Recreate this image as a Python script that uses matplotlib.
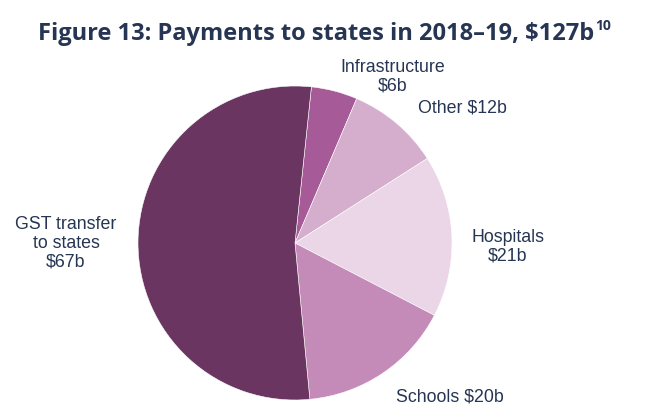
import matplotlib.pyplot as plt

labels = ["Infrastructure\n$6b", "Other $12b", "Hospitals\n$21b", "Schools $20b", "GST transfer\nto states\n$67b"]
values = [6, 12, 21, 20, 67]
colors = ["#a65a98", "#d6aecd", "#ead6e6", "#c48ab8", "#6a3560"]

# label centres in pixels (x from left, y from top)
label_pos = [(393, 77), (462, 108), (508, 247), (450, 397), (66, 243)]

W, H = 662, 411
fig = plt.figure(figsize=(W / 100, H / 100), dpi=100)

cx, cy, r = 295, 243, 157
ax = fig.add_axes([(cx - r) / W, (H - cy - r) / H, 2 * r / W, 2 * r / H])
ax.pie(values, colors=colors, startangle=84, counterclock=False,
       wedgeprops=dict(edgecolor="white", linewidth=0.4))
ax.set_xlim(-1, 1)
ax.set_ylim(-1, 1)
ax.set_aspect("auto")
ax.axis("off")

text_color = "#263553"
for lab, (px, py) in zip(labels, label_pos):
    fig.text(px / W, 1 - py / H, lab, ha="center", va="center", fontsize=12.8,
             family="Liberation Sans", color=text_color, linespacing=1.12)

title = fig.text(316 / W, 1 - 34 / H, "Figure 13: Payments to states in 2018–19, $127b",
                 ha="center", va="center", fontsize=17, fontweight="bold",
                 family="Open Sans", color=text_color)
fig.canvas.draw()
bb = title.get_window_extent()
fig.text((bb.x1 + 1) / W, (bb.y1 - 4) / H, "10", ha="left", va="center", fontsize=10,
         fontweight="bold", family="Open Sans", color=text_color)

fig.savefig("out.png", dpi=100)
